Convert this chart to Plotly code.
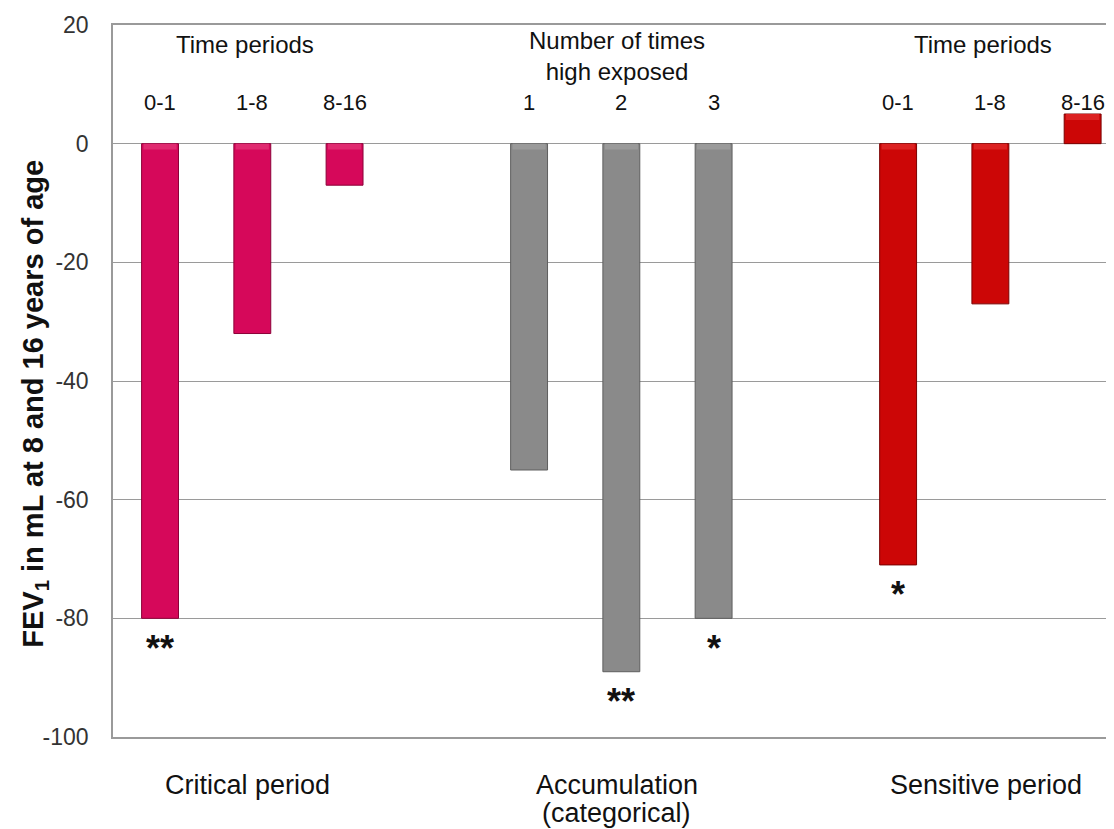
import plotly.graph_objects as go

# ---- data ----
groups = ["Critical period", "Accumulation<br>(categorical)", "Sensitive period"]
group_headers = ["Time periods", "Number of times<br>high exposed", "Time periods"]
bar_labels = [["0-1", "1-8", "8-16"], ["1", "2", "3"], ["0-1", "1-8", "8-16"]]
values = [[-80, -32, -7], [-55, -89, -80], [-71, -27, 5]]
stars = [["**", "", ""], ["", "**", "*"], ["*", "", ""]]
colors = ["#d6085a", "#8a8a8a", "#cc0606"]
highlight_colors = ["#e02a70", "#9a9a9a", "#dc2222"]
line_colors = ["#8c0038", "#5e5e5e", "#7a0000"]
yticks = [20, 0, -20, -40, -60, -80, -100]
yticklabels = ["20", "0", "-20", "-40", "-60", "-80", "-100"]
bevel = 1.0  # depth of the lighter bevel band at the top of each bar (axis units)

FONT = "Liberation Sans, Arial, sans-serif"

fig = go.Figure()
ann = []
for g in range(3):
    xs = [g * 4 + i for i in range(3)]
    fig.add_trace(go.Bar(
        x=xs, y=values[g], width=0.4,
        marker=dict(color=colors[g], line=dict(color=line_colors[g], width=1)),
        showlegend=False, hoverinfo="y"))
    tops = [max(v, 0) for v in values[g]]
    fig.add_trace(go.Bar(
        x=xs, y=[-bevel] * 3, base=tops, width=0.36,
        marker=dict(color=highlight_colors[g], line=dict(width=0)),
        showlegend=False, hoverinfo="skip"))
    for i, x in enumerate(xs):
        ann.append(dict(x=x, y=6.9, xref="x", yref="y", text=bar_labels[g][i],
                        showarrow=False, font=dict(size=22, color="#111"), yanchor="middle"))
        if stars[g][i]:
            ann.append(dict(x=x, y=values[g][i] - 5.0, xref="x", yref="y",
                            text="<b>" + stars[g][i] + "</b>",
                            showarrow=False, yanchor="middle",
                            font=dict(size=36, color="#111")))
    if g == 1:
        ann.append(dict(x=xs[1] - 0.05, y=14.8, xref="x", yref="y", text=group_headers[g],
                        showarrow=False, yanchor="middle", font=dict(size=24, color="#111")))
    else:
        ann.append(dict(x=xs[1] - 0.08, y=16.7, xref="x", yref="y", text=group_headers[g],
                        showarrow=False, yanchor="middle", font=dict(size=24, color="#111")))
    # group label below the plot, one annotation per line for tighter line spacing
    for k, line in enumerate(groups[g].split("<br>")):
        ann.append(dict(x=xs[1] - 0.05, y=-0.0674 - 0.0395 * k, xref="x", yref="paper",
                        text=line, showarrow=False, yanchor="middle",
                        font=dict(size=27, color="#111")))

ann.append(dict(x=-0.078, y=0.468, xref="paper", yref="paper",
                text="<b>FEV<sub>1</sub> in mL at 8 and 16 years of age</b>",
                textangle=-90, showarrow=False, xanchor="center", yanchor="middle",
                font=dict(size=29, color="#111",
                          family="Liberation Sans Narrow, Arial Narrow, Liberation Sans, sans-serif")))

fig.update_layout(
    width=1106, height=821,
    margin=dict(l=105, r=0, t=17, b=92),
    paper_bgcolor="white", plot_bgcolor="white",
    font=dict(family=FONT),
    barmode="overlay",
    annotations=ann,
    xaxis=dict(range=[-0.51, 10.34], showticklabels=False, showgrid=False,
               zeroline=False, showline=True, mirror=True, linecolor="#9a9a9a",
               linewidth=1.5, ticks=""),
    yaxis=dict(range=[-100, 20], tickvals=yticks, ticktext=yticklabels, showgrid=True,
               gridcolor="#9a9a9a", gridwidth=1.3, zeroline=False,
               showline=True, linecolor="#9a9a9a", linewidth=1.5,
               tickfont=dict(size=23, color="#333"), ticks="", ticklen=0,
               ticklabelstandoff=18),
)

fig.write_html("out.html")
